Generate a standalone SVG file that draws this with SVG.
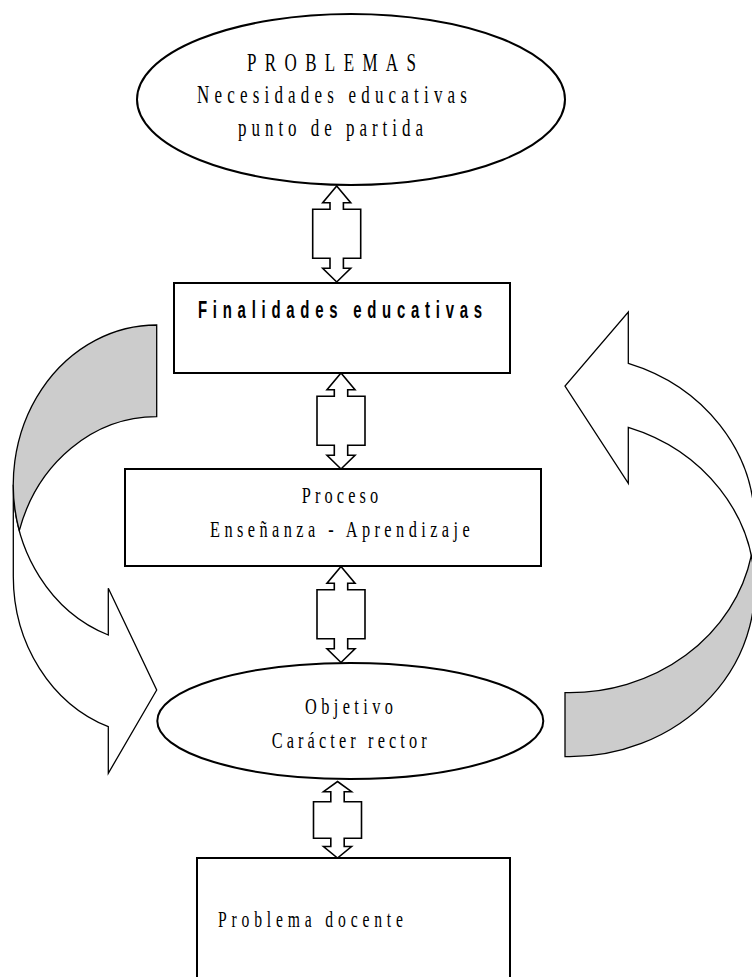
<svg xmlns="http://www.w3.org/2000/svg" width="752" height="977" viewBox="0 0 752 977">
  <style>
    .serif { font-family: "Liberation Serif", "Times New Roman", serif; fill: #000; }
    .sans-bold { font-family: "Liberation Sans", Arial, sans-serif; font-weight: bold; fill: #000; }
    .shape { fill: #fff; stroke: #000; stroke-width: 2; }
    .dbl { fill: #fff; stroke: #000; stroke-width: 1.6; stroke-linejoin: miter; }
    .band-front { fill: #fff; stroke: #000; stroke-width: 1.3; stroke-linejoin: miter; }
    .band-back { fill: #cccccc; stroke: #000; stroke-width: 1.3; stroke-linejoin: miter; }
  </style>

  <rect width="752" height="977" fill="#fff"/>

  <!-- connectors: double-headed block arrows and the two curved return arrows -->
  <g id="connectors">
    <path class="dbl" d="M336.7,186 L350.7,202.7 L343.4,202.7 L343.4,209.3 L360.7,209.3 L360.7,258.3 L343.4,258.3 L343.4,268.3 L350.7,268.3 L336.7,282 L322.7,268.3 L330,268.3 L330,258.3 L312.7,258.3 L312.7,209.3 L330,209.3 L330,202.7 L322.7,202.7 Z"/>
    <path class="dbl" d="M341,373 L355,389.7 L347.7,389.7 L347.7,396.3 L365,396.3 L365,445.3 L347.7,445.3 L347.7,455.3 L355,455.3 L341,469 L327,455.3 L334.3,455.3 L334.3,445.3 L317,445.3 L317,396.3 L334.3,396.3 L334.3,389.7 L327,389.7 Z"/>
    <path class="dbl" d="M341,566.5 L355,583.2 L347.7,583.2 L347.7,589.8 L365,589.8 L365,638.8 L347.7,638.8 L347.7,648.8 L355,648.8 L341,662.5 L327,648.8 L334.3,648.8 L334.3,638.8 L317,638.8 L317,589.8 L334.3,589.8 L334.3,583.2 L327,583.2 Z"/>
    <path class="dbl" d="M337.5,781.5 L351.5,791.7 L344.2,791.7 L344.2,801.7 L361.5,801.7 L361.5,838.3 L344.2,838.3 L344.2,846.5 L351.5,846.5 L337.5,858 L323.5,846.5 L330.8,846.5 L330.8,838.3 L313.5,838.3 L313.5,801.7 L330.8,801.7 L330.8,791.7 L323.5,791.7 Z"/>

    <!-- left curved arrow (points right, toward the objective) -->
    <g id="curved-left">
      <path class="band-front" d="M13.3,484.7 A143.4,159.7 0 0 0 108.3,635 L108.3,588.3 L156.7,690 L108.3,773.3 L108.3,726.7 A143.4,159.7 0 0 1 13.3,576.4 Z"/>
      <path class="band-back" d="M156.7,325 A143.4,159.7 0 0 0 19.3,530.55 A143.4,159.7 0 0 1 156.7,416.7 Z"/>
    </g>

    <!-- right curved arrow (points left, back toward the aims) -->
    <g id="curved-right">
      <path class="band-front" d="M754.6,587.6 A185.1,169.1 0 0 0 628.3,427.3 L628.3,483.3 L565,386 L628.3,312 L628.3,363.3 A185.1,169.1 0 0 1 754.6,523.6 Z"/>
      <path class="band-back" d="M565,756.65 A185.1,169.1 0 0 0 751.3,555.6 A185.1,169.1 0 0 1 565,692.65 Z"/>
    </g>
  </g>

  <g id="problemas">
    <ellipse class="shape" cx="351" cy="99.5" rx="214" ry="85.5"/>
    <text class="serif" font-size="25" transform="translate(247,71) scale(0.68,1)" textLength="248.5" lengthAdjust="spacing">PROBLEMAS</text>
    <text class="serif" font-size="25" transform="translate(197,103) scale(0.68,1)" textLength="397" lengthAdjust="spacing">Necesidades educativas</text>
    <text class="serif" font-size="25" transform="translate(238,136) scale(0.68,1)" textLength="272" lengthAdjust="spacing">punto de partida</text>
  </g>

  <g id="finalidades">
    <rect class="shape" x="174" y="283" width="336" height="90"/>
    <text class="sans-bold" font-size="23" transform="translate(198,318) scale(0.65,1)" textLength="437" lengthAdjust="spacing">Finalidades educativas</text>
  </g>

  <g id="proceso">
    <rect class="shape" x="125" y="469" width="416" height="97"/>
    <text class="serif" font-size="24" transform="translate(301.7,502.7) scale(0.68,1)" textLength="112.6" lengthAdjust="spacing">Proceso</text>
    <text class="serif" font-size="24" transform="translate(210,537) scale(0.68,1)" textLength="382" lengthAdjust="spacing">Enseñanza - Aprendizaje</text>
  </g>

  <g id="objetivo">
    <ellipse class="shape" cx="350.3" cy="721" rx="193" ry="58"/>
    <text class="serif" font-size="24" transform="translate(305,714) scale(0.68,1)" textLength="129.4" lengthAdjust="spacing">Objetivo</text>
    <text class="serif" font-size="24" transform="translate(271.7,748.3) scale(0.68,1)" textLength="228" lengthAdjust="spacing">Carácter rector</text>
  </g>

  <g id="problema-docente">
    <rect class="shape" x="197" y="858" width="313" height="130"/>
    <text class="serif" font-size="23" transform="translate(218,926.7) scale(0.68,1)" textLength="272" lengthAdjust="spacing">Problema docente</text>
  </g>
</svg>
